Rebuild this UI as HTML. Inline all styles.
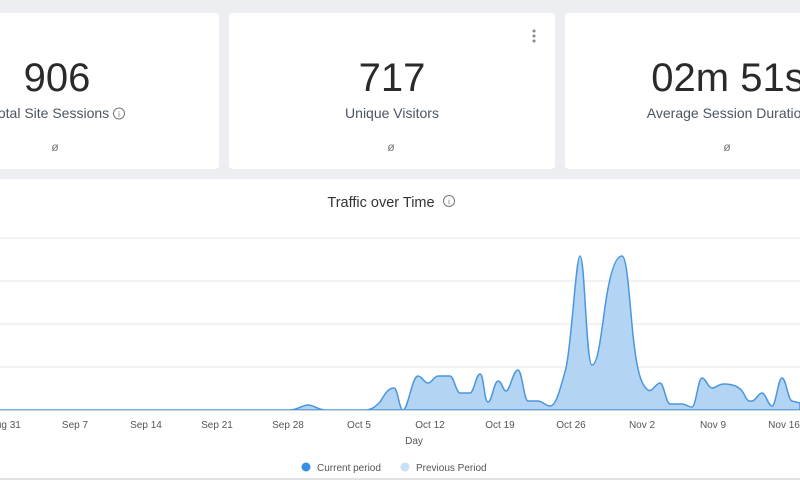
<!DOCTYPE html>
<html><head><meta charset="utf-8"><style>
html,body{margin:0;padding:0;width:800px;height:480px;overflow:hidden;background:#eceef1;font-family:"Liberation Sans",sans-serif}
svg{display:block}
</style></head><body>
<svg width="800" height="480" viewBox="0 0 800 480" xmlns="http://www.w3.org/2000/svg" font-family="Liberation Sans, sans-serif">
<rect width="800" height="480" fill="#eceef1"/>
<rect x="-10" y="13" width="229" height="156" rx="4" fill="#fff"/>
<rect x="229" y="13" width="326" height="156" rx="4" fill="#fff"/>
<rect x="565" y="13" width="245" height="156" rx="4" fill="#fff"/>
<rect x="-10" y="179" width="820" height="299" fill="#fff"/>
<g fill="#2a2a2a" font-size="40" text-anchor="middle">
<text x="57" y="91">906</text><text x="392" y="91">717</text><text x="728" y="91">02m 51s</text>
</g>
<g fill="#4a5560" font-size="14" text-anchor="middle">
<text x="50" y="118">Total Site Sessions</text><text x="392" y="118">Unique Visitors</text><text x="728" y="118">Average Session Duration</text>
</g>
<circle cx="119" cy="113.5" r="5.5" fill="none" stroke="#777" stroke-width="1"/><text x="119" y="117" font-size="8" fill="#777" text-anchor="middle">i</text>
<g fill="#777" font-size="12" text-anchor="middle"><text x="55" y="151">ø</text><text x="391" y="151">ø</text><text x="727" y="151">ø</text></g>
<g fill="#888"><circle cx="534" cy="31" r="1.5"/><circle cx="534" cy="36" r="1.5"/><circle cx="534" cy="41" r="1.5"/></g>
<text x="381" y="207" font-size="14.5" fill="#333" text-anchor="middle">Traffic over Time</text>
<circle cx="449" cy="201" r="5.5" fill="none" stroke="#777" stroke-width="1"/><text x="449" y="204.5" font-size="8" fill="#777" text-anchor="middle">i</text>
<g stroke="#e6e6e6" stroke-width="1"><line x1="0" y1="238" x2="800" y2="238"/><line x1="0" y1="281" x2="800" y2="281"/><line x1="0" y1="324" x2="800" y2="324"/><line x1="0" y1="367" x2="800" y2="367"/></g>
<path d="M0,410 L290,410 C298,410 302,405 308,405 C314,405 318,410 325,410 L365,410 C372,410 376,406 380,402 C385,394 388,388 394,388 C398,388 399,410 403,410 C408,410 412,376 418,376 C422,376 424,383 428,383 C432,383 434,376 438,376 L450,376 C454,376 456,393 460,393 L470,393 C474,393 476,374 480,374 C484,374 484,402 488,402 C492,402 494,381 498,381 C502,381 503,391 506,391 C510,391 513,370 518,370 C522,370 524,401 528,401 L538,401 C542,401 546,406 550,406 C556,406 560,390 566,368 C572,340 576,256 580,256 C585,256 586,365 592,365 C598,365 601,335 606,300 C612,262 618,256 622,256 C627,256 629,295 633,335 C637,372 641,385 648,390 C652,393 656,383 660,383 C664,383 666,404 670,404 L682,404 C686,404 688,407 692,407 C696,407 698,378 702,378 C706,378 708,388 712,388 C716,388 718,384 724,384 C732,384 740,386 744,394 C748,403 750,401 752,401 C756,401 758,393 762,393 C766,393 768,406 772,406 C776,406 778,378 782,378 C786,378 788,400 792,401 L800,403 L800,410 Z" fill="#b3d4f3" stroke="#4a97dd" stroke-width="1.5"/>
<line x1="0" y1="410.5" x2="800" y2="410.5" stroke="#c8d6e3" stroke-width="1"/>
<g fill="#555" font-size="10" text-anchor="middle">
<text x="5" y="428">Aug 31</text><text x="75" y="428">Sep 7</text><text x="146" y="428">Sep 14</text><text x="217" y="428">Sep 21</text><text x="288" y="428">Sep 28</text><text x="359" y="428">Oct 5</text><text x="430" y="428">Oct 12</text><text x="500" y="428">Oct 19</text><text x="571" y="428">Oct 26</text><text x="642" y="428">Nov 2</text><text x="713" y="428">Nov 9</text><text x="784" y="428">Nov 16</text>
<text x="414" y="444">Day</text>
</g>
<circle cx="306" cy="467" r="4.5" fill="#3a8ee0"/><text x="317" y="471" font-size="10" fill="#555">Current period</text>
<circle cx="405" cy="467" r="4.5" fill="#c9e0f6"/><text x="416" y="471" font-size="10" fill="#555">Previous Period</text>
<rect x="0" y="478" width="800" height="2" fill="#e0e2e5"/>
</svg>
</body></html>
